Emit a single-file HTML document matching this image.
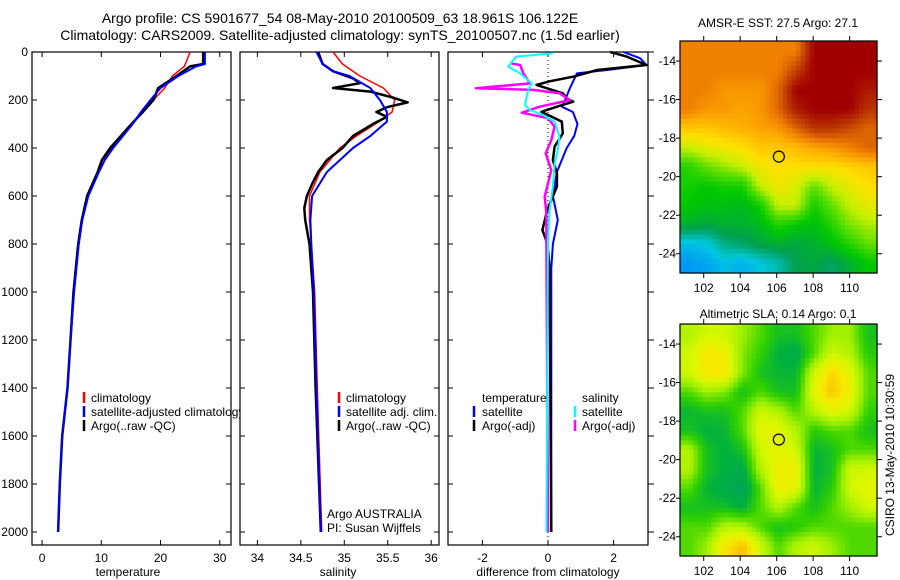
<!DOCTYPE html>
<html><head><meta charset="utf-8"><style>
body{margin:0;background:#fff}
svg{display:block;font-family:"Liberation Sans",sans-serif}
</style></head><body>
<svg id="fig" width="900" height="580" viewBox="0 0 900 580">
<text x="340" y="23" font-size="14" text-anchor="middle">Argo profile: CS 5901677_54 08-May-2010 20100509_63 18.961S 106.122E</text>
<text x="340" y="40" font-size="14" text-anchor="middle">Climatology: CARS2009. Satellite-adjusted climatology: synTS_20100507.nc (1.5d earlier)</text>
<g id="g1"></g>
<g id="g2"></g>
<g id="g3"></g>
<g id="m1"></g>
<g id="m2"></g>
<text x="778" y="27" font-size="12" text-anchor="middle">AMSR-E SST: 27.5 Argo: 27.1</text>
<text x="778" y="318" font-size="12" text-anchor="middle">Altimetric SLA: 0.14 Argo: 0.1</text>
<text transform="translate(894,455) rotate(-90)" font-size="12" text-anchor="middle">CSIRO 13-May-2010 10:30:59</text>
</svg>
<script>
// ---- profile data ----
const tempDepth = [0,50,60,100,150,200,250,300,400,450,500,600,700,800,1000,1200,1400,1600,1800,2000];
const tempArgo  = [27.2,27.2,25,22.7,19.6,18.8,17,15.1,11.5,10.1,9.4,7.6,6.7,6.1,5.3,4.8,4.3,3.4,3.0,2.7];
const tempClim  = [25,24.2,24,22,20.7,18.8,17,15.1,11.7,10.2,9.5,7.7,6.7,6.1,5.3,4.8,4.3,3.4,3.0,2.7];
const tempSat   = [27.5,27.5,26,23,20,18.3,16.7,15.3,12,10.6,9.6,7.8,6.8,6.2,5.4,4.8,4.3,3.4,3.0,2.7];

const salArgoDepth = [0,50,80,110,130,150,165,190,210,230,250,270,300,350,400,450,500,550,600,650,700,800,1000,1400,2000];
const salArgo = [34.70,34.75,34.87,35.1,35.18,34.87,35.3,35.56,35.73,35.49,35.37,35.49,35.33,35.1,34.98,34.8,34.7,34.63,34.57,34.54,34.55,34.6,34.64,34.67,34.73];
const salDepth = [0,50,80,100,150,200,250,290,350,400,500,600,700,800,1000,1400,2000];
const salClim = [34.87,34.98,35.1,35.18,35.45,35.58,35.55,35.4,35.14,34.95,34.72,34.6,34.6,34.62,34.66,34.69,34.74];
const salSat  = [34.68,34.75,34.87,35.06,35.3,35.41,35.49,35.49,35.3,35.1,34.8,34.63,34.61,34.62,34.65,34.68,34.73];

const dTempSatDepth = [0,26,54,75,89,150,200,228,250,300,350,400,500,600,700,800,900,2000];
const dTempSat = [2.3,2.81,3.0,1.8,0.88,0.67,0.52,0.42,0.76,0.9,0.8,0.57,0.27,0.15,0.3,0.15,0.1,0.1];
const dTempArgoDepth = [0,19,54,75,103,122,137,172,193,207,228,249,290,339,394,450,506,561,658,742,797,900,2000];
const dTempArgo = [1.9,2.4,3.0,1.5,0.77,0.05,-0.35,0.45,0.57,0.77,0.27,-0.2,0.42,0.45,0.2,0.15,0.27,0.27,-0.02,-0.17,-0.02,0.05,0.1];
const dSalSatDepth = [5,19,61,89,131,158,186,221,242,263,290,353,408,464,561,658,783,2000];
const dSalSat = [0.15,-0.97,-1.22,-0.85,-0.5,-0.6,-0.65,-0.7,-0.55,-0.15,0.2,0.35,0.3,0.2,0.15,0.05,0,-0.05];
const dSalArgoDepth = [47,54,89,131,151,158,172,200,228,253,276,311,367,422,492,603,672,783,2000];
const dSalArgo = [-1.15,-0.85,-0.75,-0.55,-2.2,-0.45,0.35,0.67,-0.25,-0.8,0,0.2,0.1,-0.07,0.1,-0.1,-0.05,-0.05,0];

const depthTicks = [0,200,400,600,800,1000,1200,1400,1600,1800,2000];
const tempTicks = [0,10,20,30];
const salTicks = [34,34.5,35,35.5,36];
const salTickLabels = ["34","34.5","35","35.5","36"];
const diffTicks = [-2,0,2];

// ---- map data ----
const mapLats = [-13,-14,-15,-16,-17,-18,-19,-20,-21,-22,-23,-24];
const mapLons = [100.7,101.68,102.66,103.64,104.62,105.6,106.58,107.56,108.54,109.52,110.5];
const sstGrid = [
[27.8,27.8,27.8,27.8,27.8,27.8,27.8,28.8,28.8,28.8,28.8],
[27.8,27.8,27.8,27.8,27.8,27.8,28.3,28.8,28.8,28.8,28.8],
[27.8,27.8,27.6,27.6,27.6,28.0,28.8,28.8,28.8,28.8,28.6],
[27.8,27.6,27.6,27.5,27.6,28.0,28.6,28.8,28.8,28.8,28.4],
[27.2,27.2,27.3,27.4,27.5,27.6,28.0,28.4,28.4,28.2,28.0],
[26.6,26.8,26.9,27.0,27.2,27.2,27.3,27.5,27.6,27.8,28.0],
[25.9,26.2,26.4,26.6,26.9,27.0,27.0,27.0,27.0,27.1,27.2],
[25.8,25.7,25.8,25.8,26.6,26.9,26.7,26.2,26.6,26.8,27.0],
[25.7,25.6,25.6,25.5,25.8,26.6,26.6,25.8,26.2,26.6,26.8],
[25.4,25.3,25.4,25.4,25.5,25.9,25.7,25.6,25.9,26.3,26.5],
[24.5,24.6,25.0,25.1,25.3,25.4,25.3,25.4,25.6,25.9,26.2],
[24.2,24.3,24.5,24.4,24.6,24.8,25.2,25.3,25.1,25.4,25.7]];
const slaGrid = [
[0.12,0.15,0.15,0.1,0.05,0.0,0.0,0.05,0.1,0.1,0.0],
[0.15,0.22,0.2,0.08,0.03,-0.03,-0.05,0.05,0.15,0.12,0.02],
[0.15,0.22,0.22,0.08,0.0,-0.02,-0.02,0.15,0.25,0.18,0.05],
[0.05,0.1,0.08,0.0,0.05,0.0,0.0,0.18,0.27,0.2,0.05],
[-0.02,0.0,0.0,0.05,0.15,0.12,0.05,0.12,0.18,0.15,0.03],
[0.0,-0.03,-0.02,0.05,0.18,0.18,0.12,0.02,0.05,0.05,0.0],
[0.12,0.0,-0.03,0.0,0.15,0.18,0.15,-0.02,0.0,0.05,0.05],
[0.12,0.0,-0.03,-0.05,0.12,0.2,0.2,-0.03,0.0,0.15,0.15],
[0.05,-0.02,-0.05,-0.08,0.05,0.2,0.18,-0.02,0.02,0.15,0.18],
[0.0,0.0,0.0,-0.03,0.05,0.12,0.05,0.0,0.05,0.1,0.15],
[0.05,0.05,0.12,0.12,0.05,0.0,0.02,0.05,0.05,0.05,0.05],
[0.05,0.1,0.22,0.28,0.15,0.05,0.12,0.15,0.1,0.05,0.05]];
const argoLon = 106.12, argoLat = -18.96;
const lonTicks = [102,104,106,108,110];
const latTicks = [-14,-16,-18,-20,-22,-24];

const NS = "http://www.w3.org/2000/svg";
function mk(parent, tag, attrs){
  const e = document.createElementNS(NS, tag);
  for (const k in attrs) e.setAttribute(k, attrs[k]);
  parent.appendChild(e);
  return e;
}
const TOP = 52, BOT = 545, PX_PER_M = 0.24;
const yD = d => TOP + d * PX_PER_M;

function panel(g, x0, x1, dmin, dmax){
  const xs = v => x0 + (v - dmin) / (dmax - dmin) * (x1 - x0);
  const r = mk(g,'rect',{x:x0,y:TOP,width:x1-x0,height:BOT-TOP,fill:'#fff',stroke:'#000','stroke-width':1.2});
  
  
  return xs;
}
function line(g, xs, vals, depths, color, w, name){
  const pts = vals.map((v,i)=> xs(v).toFixed(1)+','+yD(depths[i]).toFixed(1)).join(' ');
  const p = mk(g,'polyline',{points:pts,fill:'none',stroke:color,'stroke-width':w,'stroke-linejoin':'round'});
  
  
}
function depthTicksDraw(g, x0, x1, labels, outsideRight){
  depthTicks.forEach(d=>{
    const y = yD(d);
    mk(g,'line',{x1:x0,y1:y,x2:x0+5,y2:y,stroke:'#000'});
    if (outsideRight) mk(g,'line',{x1:x1,y1:y,x2:x1+6,y2:y,stroke:'#000'});
    else mk(g,'line',{x1:x1,y1:y,x2:x1-5,y2:y,stroke:'#000'});
    if (labels){
      const t = mk(g,'text',{x:x0-4,y:y+4,'font-size':12,'text-anchor':'end'});
      t.textContent = d;
      
      
    }
  });
}
function xTicks(g, xs, ticks, labels){
  ticks.forEach((v,i)=>{
    const x = xs(v);
    mk(g,'line',{x1:x,y1:BOT,x2:x,y2:BOT-5,stroke:'#000'});
    mk(g,'line',{x1:x,y1:TOP,x2:x,y2:TOP+5,stroke:'#000'});
    const t = mk(g,'text',{x:x,y:562,'font-size':12,'text-anchor':'middle'});
    t.textContent = labels ? labels[i] : v;
    
    
  });
}
function txt(g, x, y, s, name, anchor){
  const t = mk(g,'text',{x:x,y:y,'font-size':12,'text-anchor':anchor||'start'});
  t.textContent = s;
  
  
  return t;
}
function legMark(g, x, y, color, name){
  const l = mk(g,'line',{x1:x,y1:y-10,x2:x,y2:y+1,stroke:color,'stroke-width':2.5});
  
  
}

// Panel 1: temperature
const g1 = document.getElementById('g1');
const xT = panel(g1, 32, 231, -1.7, 31.9);
depthTicksDraw(g1, 32, 231, true, false);
xTicks(g1, xT, tempTicks);
line(g1, xT, tempClim, tempDepth, '#f00', 1.5, 'temp-climatology-line');
line(g1, xT, tempArgo, tempDepth, '#000', 2.5, 'temp-argo-line');
line(g1, xT, tempSat, tempDepth, '#00f', 2, 'temp-satellite-line');
legMark(g1, 84, 402, '#f00', 'legend-climatology-mark'); txt(g1, 91, 402, 'climatology', 'legend-climatology');
legMark(g1, 84, 416, '#00f', 'legend-satellite-mark'); txt(g1, 91, 416, 'satellite-adjusted climatology', 'legend-satellite');
legMark(g1, 84, 430, '#000', 'legend-argo-mark'); txt(g1, 91, 430, 'Argo(..raw -QC)', 'legend-argo');
txt(g1, 128, 576, 'temperature', 'x-axis-title-temperature', 'middle');

// Panel 2: salinity
const g2 = document.getElementById('g2');
const xS = panel(g2, 240, 439, 33.8, 36.09);
depthTicksDraw(g2, 240, 439, false, false);
xTicks(g2, xS, salTicks, salTickLabels);
line(g2, xS, salClim, salDepth, '#f00', 1.5, 'sal-climatology-line');
line(g2, xS, salArgo, salArgoDepth, '#000', 2.5, 'sal-argo-line');
line(g2, xS, salSat, salDepth, '#00f', 2, 'sal-satellite-line');
legMark(g2, 339, 402, '#f00', 'legend-climatology-mark'); txt(g2, 346, 402, 'climatology', 'legend-climatology');
legMark(g2, 339, 416, '#00f', 'legend-satellite-mark'); txt(g2, 346, 416, 'satellite adj. clim.', 'legend-satellite');
legMark(g2, 339, 430, '#000', 'legend-argo-mark'); txt(g2, 346, 430, 'Argo(..raw -QC)', 'legend-argo');
txt(g2, 327, 518, 'Argo AUSTRALIA', 'argo-australia-label');
txt(g2, 327, 532, 'PI: Susan Wijffels', 'pi-label');
txt(g2, 338, 576, 'salinity', 'x-axis-title-salinity', 'middle');

// Panel 3: differences
const g3 = document.getElementById('g3');
const xDf = panel(g3, 448, 648, -3.05, 3.05);
depthTicksDraw(g3, 448, 648, false, true);
xTicks(g3, xDf, diffTicks);
mk(g3,'line',{x1:xDf(0),y1:TOP,x2:xDf(0),y2:BOT,stroke:'#000','stroke-dasharray':'1,3'});
line(g3, xDf, dTempSat, dTempSatDepth, '#00f', 2, 'diff-temp-satellite-line');
line(g3, xDf, dTempArgo, dTempArgoDepth, '#000', 2.5, 'diff-temp-argo-line');
line(g3, xDf, dSalArgo, dSalArgoDepth, '#f0f', 2.5, 'diff-sal-argo-line');
line(g3, xDf, dSalSat, dSalSatDepth, '#0ff', 2, 'diff-sal-satellite-line');
txt(g3, 482, 402, 'temperature', 'legend-temperature-header');
txt(g3, 582, 402, 'salinity', 'legend-salinity-header');
legMark(g3, 474, 416, '#00f', 'legend-temp-satellite-mark'); txt(g3, 482, 416, 'satellite', 'legend-temp-satellite');
legMark(g3, 474, 430, '#000', 'legend-temp-argo-mark'); txt(g3, 482, 430, 'Argo(-adj)', 'legend-temp-argo');
legMark(g3, 575, 416, '#0ff', 'legend-sal-satellite-mark'); txt(g3, 582, 416, 'satellite', 'legend-sal-satellite');
legMark(g3, 575, 430, '#f0f', 'legend-sal-argo-mark'); txt(g3, 582, 430, 'Argo(-adj)', 'legend-sal-argo');
txt(g3, 548, 576, 'difference from climatology', 'x-axis-title-difference', 'middle');

// ---- maps ----
function interp(stops, v){
  if (v <= stops[0][0]) return 'rgb('+stops[0][1].join(',')+')';
  for (let i=1;i<stops.length;i++){
    if (v <= stops[i][0]){
      const a = stops[i-1], b = stops[i], t = (v-a[0])/(b[0]-a[0]);
      const c = a[1].map((x,k)=> Math.round(x + (b[1][k]-x)*t));
      return 'rgb('+c.join(',')+')';
    }
  }
  return 'rgb('+stops[stops.length-1][1].join(',')+')';
}
const sstStops = [[24,[0,128,255]],[24.6,[0,200,224]],[25.2,[0,160,80]],[25.7,[0,200,0]],[26.2,[96,224,0]],[26.6,[200,240,0]],[27.0,[255,224,0]],[27.4,[255,176,0]],[27.8,[240,128,0]],[28.3,[192,64,0]],[28.8,[160,0,0]]];
const slaStops = [[-0.1,[0,160,96]],[-0.03,[0,176,64]],[0.03,[48,208,0]],[0.1,[160,240,0]],[0.16,[216,248,0]],[0.22,[248,232,0]],[0.28,[248,192,0]]];
const sst = v => interp(sstStops, v);
const sla = v => interp(slaStops, v);

// bilinear sample of grid at fractional (row, col) in cell-center coords
function sample(grid, r, c){
  const R = grid.length, C = grid[0].length;
  r = Math.max(0, Math.min(R-1, r)); c = Math.max(0, Math.min(C-1, c));
  const r0 = Math.floor(r), c0 = Math.floor(c);
  const r1 = Math.min(R-1, r0+1), c1 = Math.min(C-1, c0+1);
  const fr = r - r0, fc = c - c0;
  const a = grid[r0][c0]*(1-fc) + grid[r0][c1]*fc;
  const b = grid[r1][c0]*(1-fc) + grid[r1][c1]*fc;
  return a*(1-fr) + b*fr;
}

function drawMap(g, top, grid, colorFn, cellName){
  const L = 680, R = 877, LON0 = 100.7, LON1 = 111.5, LAT0 = -12.96, LAT1 = -25.0;
  const H = 232, SUB = 4;
  const xL = lon => L + (lon-LON0)/(LON1-LON0)*(R-L);
  const yL = lat => top + (LAT0-lat)/(LAT0-LAT1)*H;
  const nR = grid.length, nC = grid[0].length;
  grid.forEach((row,ri)=>{
    row.forEach((v,ci)=>{
      const x0 = xL(mapLons[ci]), x1 = ci+1<mapLons.length ? xL(mapLons[ci+1]) : R;
      const y0 = ri===0 ? top : yL(mapLats[ri]), y1 = ri+1<mapLats.length ? yL(mapLats[ri+1]) : top+H;
      const w = (x1-x0)/SUB, h = (y1-y0)/SUB;
      for (let a=0;a<SUB;a++){
        for (let b=0;b<SUB;b++){
          const rr = ri + (a+0.5)/SUB - 0.5, cc = ci + (b+0.5)/SUB - 0.5;
          const val = sample(grid, rr, cc);
          const c = mk(g,'rect',{x:(x0+b*w).toFixed(1),y:(y0+a*h).toFixed(1),width:(w+0.6).toFixed(1),height:(h+0.6).toFixed(1),fill:colorFn(val)});
          
          
        }
      }
    });
  });
  const f = mk(g,'rect',{x:L,y:top,width:R-L,height:H,fill:'none',stroke:'#000','stroke-width':1.2});
  
  
  lonTicks.forEach(lon=>{
    const x = xL(lon);
    mk(g,'line',{x1:x,y1:top,x2:x,y2:top-5,stroke:'#000'});
    mk(g,'line',{x1:x,y1:top+H,x2:x,y2:top+H+5,stroke:'#000'});
    const t = mk(g,'text',{x:x,y:top+H+19,'font-size':12,'text-anchor':'middle'});
    t.textContent = lon;
    
    
  });
  latTicks.forEach(lat=>{
    const y = yL(lat);
    mk(g,'line',{x1:L,y1:y,x2:L-4,y2:y,stroke:'#000'});
    mk(g,'line',{x1:R,y1:y,x2:R+5,y2:y,stroke:'#000'});
    const t = mk(g,'text',{x:L-4,y:y+4,'font-size':12,'text-anchor':'end'});
    t.textContent = lat;
    
    
  });
  const c = mk(g,'circle',{cx:xL(argoLon),cy:yL(argoLat),r:5.5,fill:'none',stroke:'#000','stroke-width':1.2});
  
  
}
drawMap(document.getElementById('m1'), 41, sstGrid, sst, 'sst-cell');
drawMap(document.getElementById('m2'), 324, slaGrid, sla, 'sla-cell');
</script>
</body></html>
